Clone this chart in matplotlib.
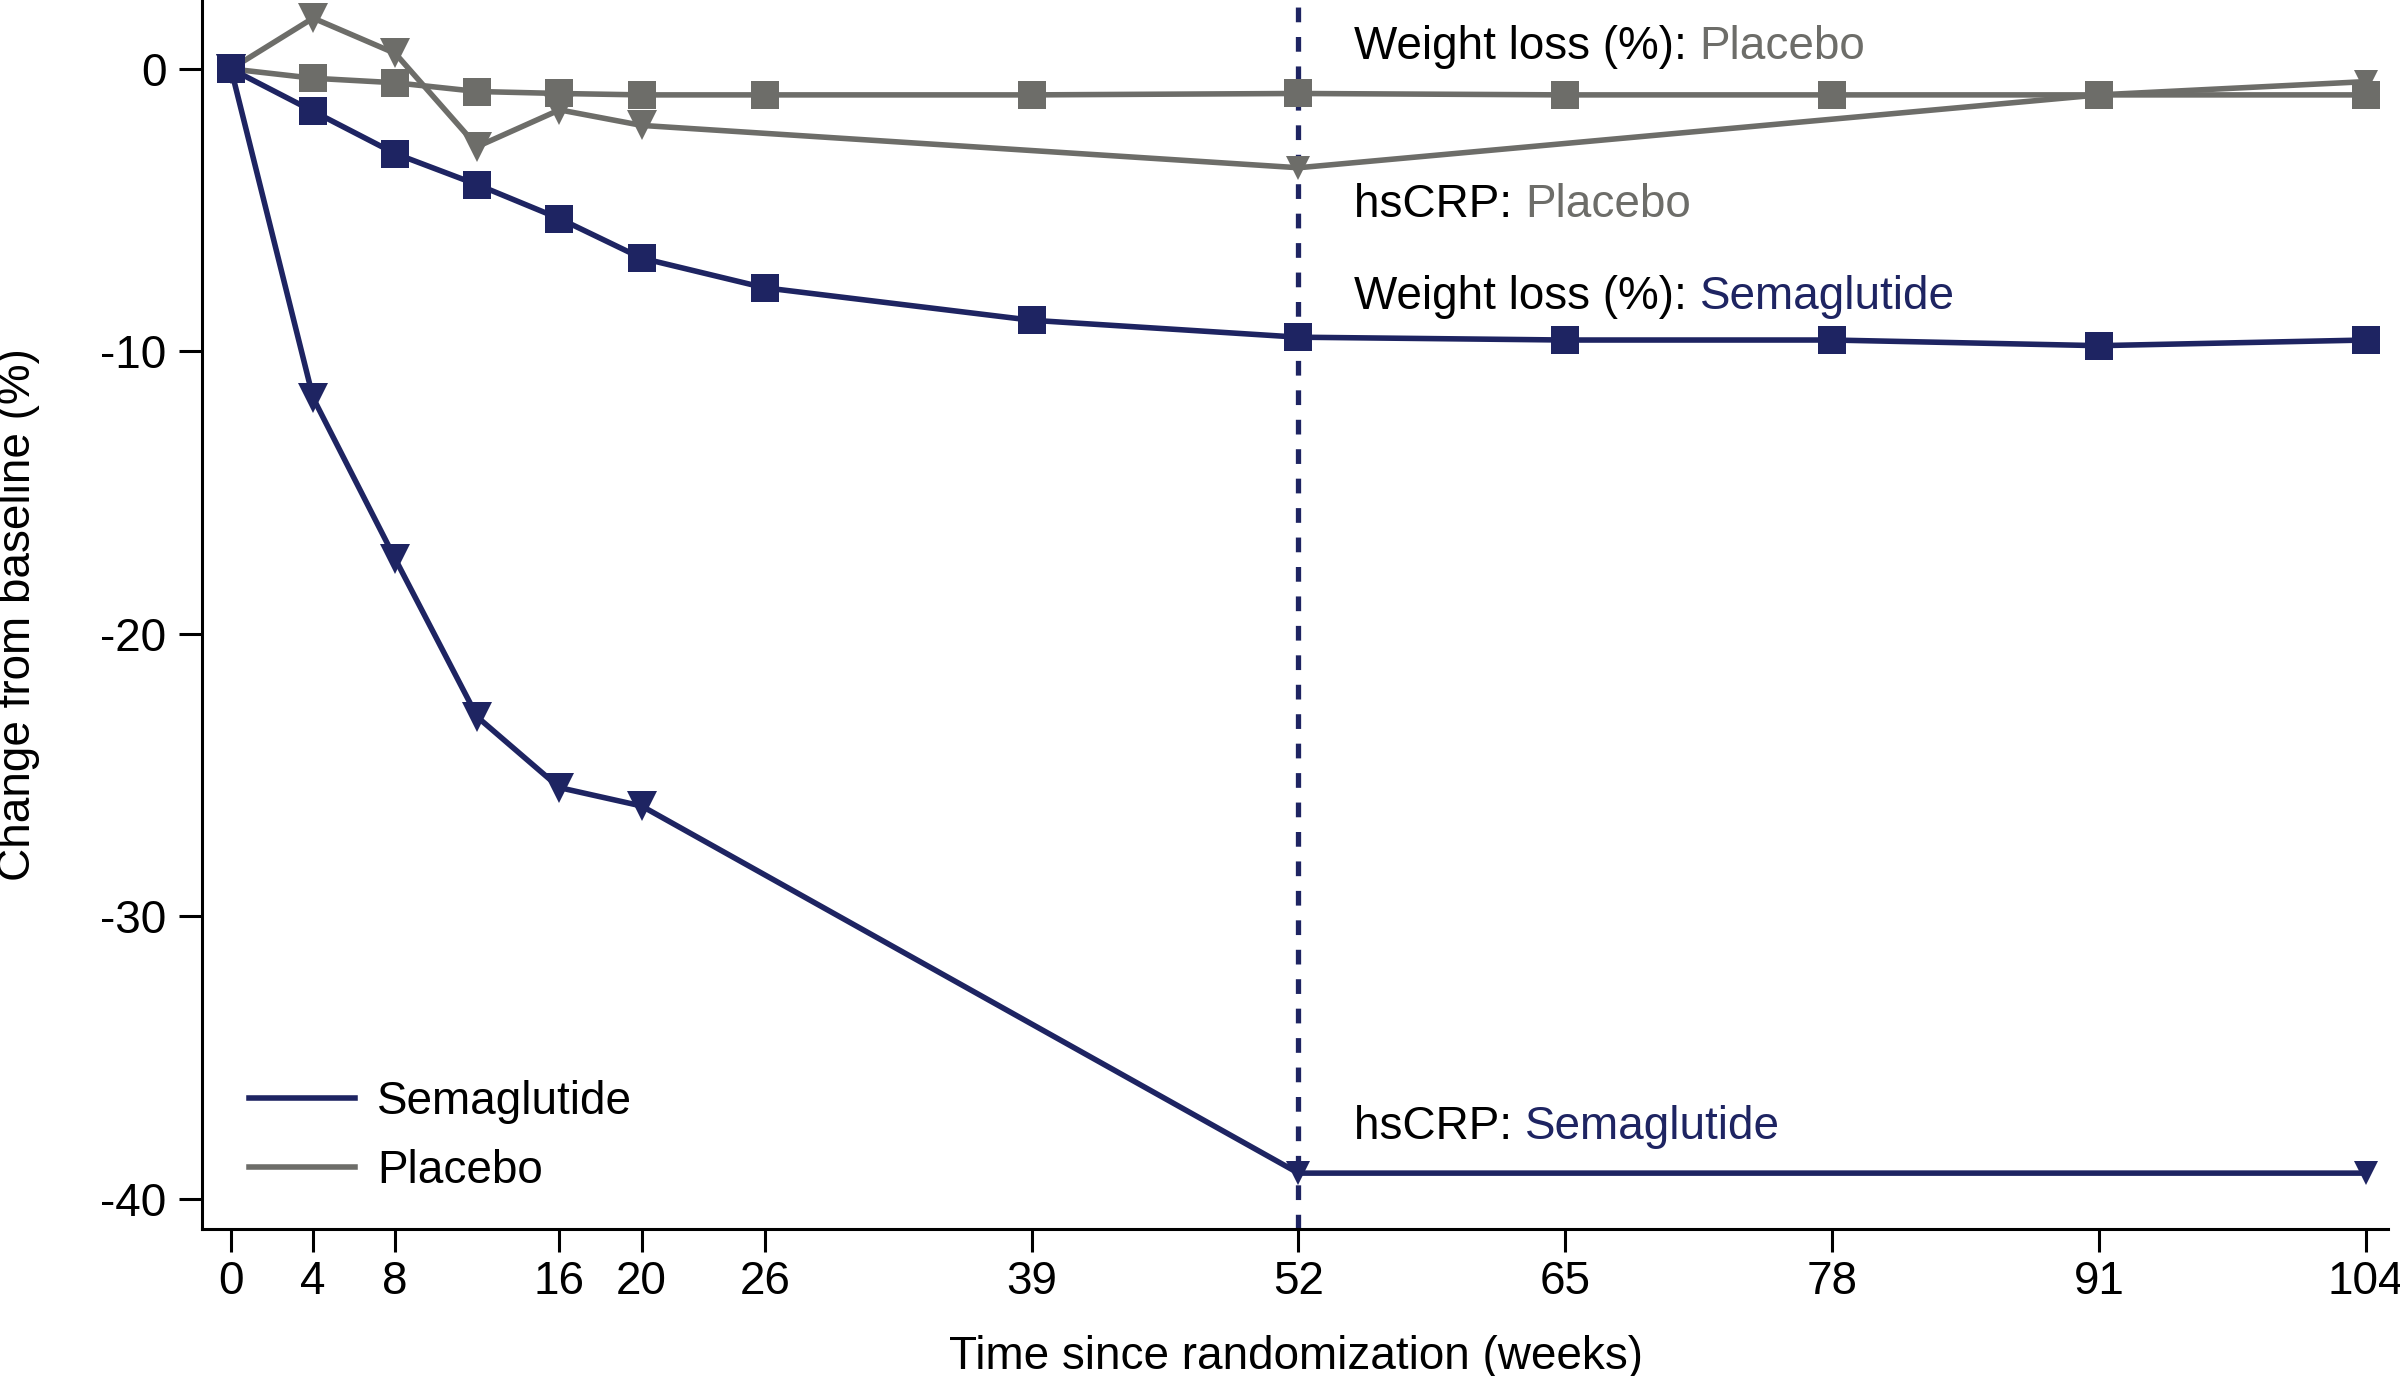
import matplotlib
matplotlib.use("Agg")
import matplotlib.pyplot as plt

plt.rcParams['font.family'] = ['Liberation Sans', 'DejaVu Sans']
plt.rcParams['lines.scale_dashes'] = False

# ---- data ----
weeks_weight = [0, 4, 8, 12, 16, 20, 26, 39, 52, 65, 78, 91, 104]
sema_weight = [0, -1.5, -3.0, -4.1, -5.3, -6.7, -7.75, -8.9, -9.5, -9.6, -9.6, -9.8, -9.6]
plac_weight = [0, -0.33, -0.49, -0.8, -0.87, -0.92, -0.92, -0.92, -0.87, -0.92, -0.92, -0.92, -0.92]

weeks_crp = [0, 4, 8, 12, 16, 20, 52, 91, 104]
sema_crp = [0, -11.65, -17.35, -22.95, -25.45, -26.1, -39.1, -39.1, -39.1]
plac_crp = [0, 1.8, 0.55, -2.75, -1.45, -2.0, -3.5, -0.92, -0.45]

xticks = [0, 4, 8, 16, 20, 26, 39, 52, 65, 78, 91, 104]
yticks = [0, -10, -20, -30, -40]

series_labels = ["Semaglutide", "Placebo"]
annotations = [
    ("Weight loss (%): ", "Placebo", 0.76, "plac"),
    ("hsCRP: ", "Placebo", -4.82, "plac"),
    ("Weight loss (%): ", "Semaglutide", -8.07, "sema"),
    ("hsCRP: ", "Semaglutide", -37.46, "sema"),
]
ref_week = 52
text_week = 54.7

# ---- style ----
NAVY = "#1e2462"
GREY = "#6d6d69"
colors = {"sema": NAVY, "plac": GREY}
FS = 16.5
LW = 2.0

fig = plt.figure(figsize=(12, 6.88), dpi=200)
ax = fig.add_axes([0.0842, 0.1068, 0.911, 0.8932])

ax.axvline(ref_week, color=NAVY, lw=1.9, dashes=(5.3, 5.3), zorder=1)

# weight loss (squares)
ax.plot(weeks_weight, plac_weight, color=GREY, lw=LW, marker='s', ms=10,
        markeredgewidth=0, zorder=3)
ax.plot(weeks_weight, sema_weight, color=NAVY, lw=LW, marker='s', ms=10,
        markeredgewidth=0, zorder=4)

# hsCRP (down triangles), later visits drawn with smaller markers
n_early = 6
ax.plot(weeks_crp, plac_crp, color=GREY, lw=LW, marker='v', ms=11,
        markeredgewidth=0, markevery=list(range(n_early)), zorder=3)
ax.plot(weeks_crp[n_early:], plac_crp[n_early:], ls='none', color=GREY,
        marker='v', ms=8.5, markeredgewidth=0, zorder=3)
ax.plot(weeks_crp, sema_crp, color=NAVY, lw=LW, marker='v', ms=11,
        markeredgewidth=0, markevery=list(range(n_early)), zorder=4)
ax.plot([weeks_crp[n_early], weeks_crp[-1]], [sema_crp[n_early], sema_crp[-1]],
        ls='none', color=NAVY, marker='v', ms=8.5, markeredgewidth=0, zorder=4)

# legend proxies
h1, = ax.plot([], [], color=NAVY, lw=LW)
h2, = ax.plot([], [], color=GREY, lw=LW)
ax.legend([h1, h2], series_labels, loc='center left', bbox_to_anchor=(0.0215, 0.0753),
          frameon=False, fontsize=FS, handlelength=2.3, handletextpad=0.5,
          labelspacing=0.53, borderpad=0, borderaxespad=0)

# annotations
for prefix, group, yv, key in annotations:
    t = ax.text(text_week, yv, prefix, fontsize=FS, color='black', ha='left', va='center')
    ax.annotate(group, xy=(1, 0), xycoords=t, fontsize=FS, color=colors[key],
                ha='left', va='bottom')

ax.set_xlim(-1.41, 105.1)
ax.set_ylim(-41.08, 2.44)
ax.set_xticks(xticks)
ax.set_xticklabels([str(v) for v in xticks])
ax.set_yticks(yticks)
ax.set_yticklabels([str(v) for v in yticks])

for s in ['top', 'right']:
    ax.spines[s].set_visible(False)
for s in ['left', 'bottom']:
    ax.spines[s].set_linewidth(1.1)
ax.tick_params(axis='both', labelsize=FS, width=1.1, length=8.3, color='black')
ax.tick_params(axis='y', pad=4.5)
ax.tick_params(axis='x', pad=3)

ax.set_xlabel("Time since randomization (weeks)", fontsize=FS)
ax.set_ylabel("Change from baseline (%)", fontsize=FS)
ax.xaxis.set_label_coords(0.5005, -0.086)
ax.yaxis.set_label_coords(-0.0741, 0.5)

fig.savefig("out.png", dpi=200)
